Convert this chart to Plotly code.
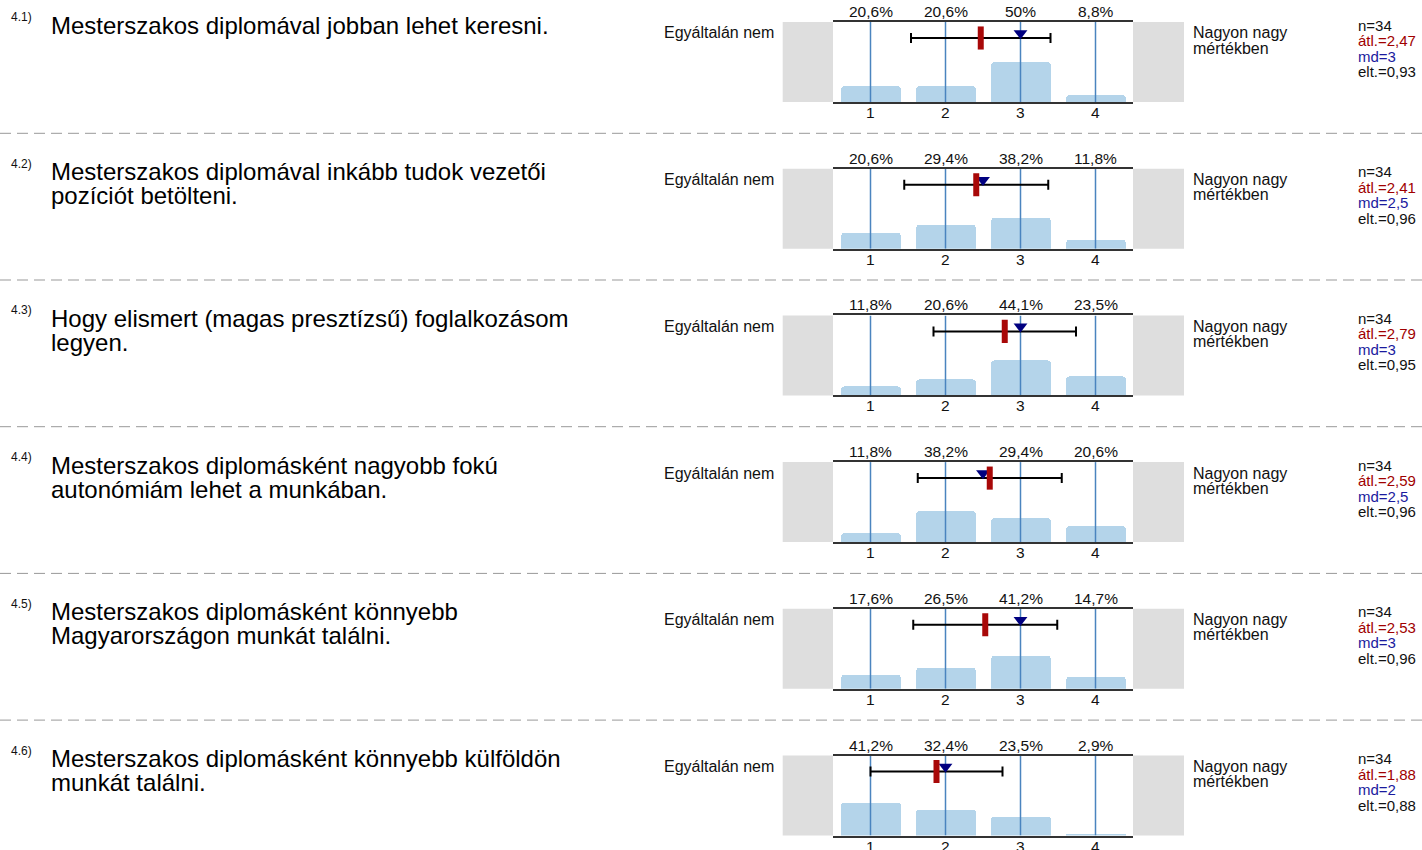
import plotly.graph_objects as go

# ---------------- data ----------------
codes = ["4.1)", "4.2)", "4.3)", "4.4)", "4.5)", "4.6)"]
question_lines = [
    ["Mesterszakos diplomával jobban lehet keresni."],
    ["Mesterszakos diplomával inkább tudok vezetői", "pozíciót betölteni."],
    ["Hogy elismert (magas presztízsű) foglalkozásom", "legyen."],
    ["Mesterszakos diplomásként nagyobb fokú", "autonómiám lehet a munkában."],
    ["Mesterszakos diplomásként könnyebb", "Magyarországon munkát találni."],
    ["Mesterszakos diplomásként könnyebb külföldön", "munkát találni."],
]
categories = ["1", "2", "3", "4"]
scale_values = [1, 2, 3, 4]
pct_4_1 = [20.6, 20.6, 50.0, 8.8]
pct_4_2 = [20.6, 29.4, 38.2, 11.8]
pct_4_3 = [11.8, 20.6, 44.1, 23.5]
pct_4_4 = [11.8, 38.2, 29.4, 20.6]
pct_4_5 = [17.6, 26.5, 41.2, 14.7]
pct_4_6 = [41.2, 32.4, 23.5, 2.9]
pcts = [pct_4_1, pct_4_2, pct_4_3, pct_4_4, pct_4_5, pct_4_6]
n_values = [34, 34, 34, 34, 34, 34]
means = [2.47, 2.41, 2.79, 2.59, 2.53, 1.88]
medians = [3, 2.5, 3, 2.5, 3, 2]
sds = [0.93, 0.96, 0.95, 0.96, 0.96, 0.88]
left_label = "Egyáltalán nem"
right_label = ["Nagyon nagy", "mértékben"]


def hu(v):
    s = f"{v:g}"
    return s.replace(".", ",")


# ---------------- layout geometry ----------------
W, H = 1422, 850
ROW0, STEP, PH = 22.0, 146.7, 80.0
X0, X1 = 833.0, 1133.0
FONT = "Arial, Liberation Sans, sans-serif"


def px(x):
    return x / W


def py(y):
    return 1 - y / H


fig = go.Figure()
shapes = []
annotations = []
layout_axes = {}

for i in range(6):
    k = i + 1
    xa = "x" if k == 1 else f"x{k}"
    ya = "y" if k == 1 else f"y{k}"
    T = ROW0 + STEP * i

    # bars
    fig.add_trace(go.Bar(
        x=scale_values, y=pcts[i], width=0.8,
        marker=dict(color="#b4d4ea", cornerradius=4, line=dict(width=0)),
        xaxis=xa, yaxis=ya, hoverinfo="skip", showlegend=False))
    # vertical scale lines (drawn above bars)
    gx, gy = [], []
    for v in scale_values:
        gx += [v, v, None]
        gy += [0, 100, None]
    fig.add_trace(go.Scatter(
        x=gx, y=gy, mode="lines", line=dict(color="#4a84bf", width=1.5),
        xaxis=xa, yaxis=ya, hoverinfo="skip", showlegend=False))
    # error bar: mean +- sd
    fig.add_trace(go.Scatter(
        x=[means[i]], y=[80], mode="markers",
        marker=dict(size=1, color="rgba(0,0,0,0)"),
        error_x=dict(type="data", array=[sds[i]], color="black", thickness=2, width=5),
        xaxis=xa, yaxis=ya, hoverinfo="skip", showlegend=False))
    # median triangle
    fig.add_trace(go.Scatter(
        x=[medians[i]], y=[86], mode="markers",
        marker=dict(symbol="triangle-down", size=12, color="#000080", line=dict(width=0)),
        xaxis=xa, yaxis=ya, hoverinfo="skip", showlegend=False))
    # mean marker
    fig.add_trace(go.Scatter(
        x=[means[i]], y=[80], mode="markers",
        marker=dict(symbol="line-ns", size=16.5, line=dict(width=6, color="#a80808")),
        xaxis=xa, yaxis=ya, hoverinfo="skip", showlegend=False))

    layout_axes["xaxis" if k == 1 else f"xaxis{k}"] = dict(
        domain=[px(X0), px(X1)], range=[0.5, 4.5], anchor=ya,
        tickvals=scale_values, showticklabels=False, ticks="",
        showgrid=False, zeroline=False, showline=True, mirror=True,
        linecolor="#333333", linewidth=1.5, fixedrange=True)
    layout_axes["yaxis" if k == 1 else f"yaxis{k}"] = dict(
        domain=[py(T + PH), py(T)], range=[0, 100], anchor=xa,
        visible=False, fixedrange=True)

    # gray side boxes
    for (a, b) in [(782.7, X0), (X1, 1184.0)]:
        shapes.append(dict(type="rect", xref="paper", yref="paper",
                           x0=px(a), x1=px(b), y0=py(T + PH), y1=py(T),
                           fillcolor="#dedede", line=dict(width=0), layer="below"))
    # dashed separator
    if i < 5:
        ysep = T + 111.3
        shapes.append(dict(type="line", xref="paper", yref="paper",
                           x0=0, x1=1, y0=py(ysep), y1=py(ysep),
                           line=dict(color="#999999", width=1, dash="11px,6px")))

    # percent labels (top) and category labels (bottom)
    for v, p, c in zip(scale_values, pcts[i], categories):
        annotations.append(dict(
            x=v, y=1, xref=xa, yref=f"{ya} domain", yanchor="bottom", xanchor="center",
            text=hu(p) + "%", showarrow=False, yshift=0,
            font=dict(size=15.5, color="#111", family=FONT)))
        annotations.append(dict(
            x=v, y=0, xref=xa, yref=f"{ya} domain", yanchor="top", xanchor="center",
            text=c, showarrow=False, yshift=0,
            font=dict(size=15.5, color="#111", family=FONT)))

    # question code + text
    annotations.append(dict(
        x=px(9), y=py(T - 5), xref="paper", yref="paper", xanchor="left", yanchor="middle",
        text=codes[i], showarrow=False, font=dict(size=12, color="#111", family=FONT)))
    for j, line in enumerate(question_lines[i]):
        annotations.append(dict(
            x=px(49), y=py(T + 3 + 24 * j), xref="paper", yref="paper",
            xanchor="left", yanchor="middle", text=line, showarrow=False,
            font=dict(size=24, color="#000", family=FONT)))

    # scale end labels
    annotations.append(dict(
        x=px(776), y=py(T + 11), xref="paper", yref="paper", xanchor="right",
        yanchor="middle", text=left_label, showarrow=False,
        font=dict(size=16, color="#111", family=FONT)))
    for j, line in enumerate(right_label):
        annotations.append(dict(
            x=px(1191), y=py(T + 11 + 15 * j), xref="paper", yref="paper",
            xanchor="left", yanchor="middle", text=line, showarrow=False,
            font=dict(size=16, color="#111", family=FONT)))

    # statistics
    stats = [
        (f"n={n_values[i]}", "#111111"),
        (f"átl.={hu(means[i])}", "#a00000"),
        (f"md={hu(medians[i])}", "#1a1a9e"),
        (f"elt.={hu(sds[i])}", "#111111"),
    ]
    for j, (txt, col) in enumerate(stats):
        annotations.append(dict(
            x=px(1356), y=py(T + 3 + 15.5 * j), xref="paper", yref="paper",
            xanchor="left", yanchor="middle", text=txt, showarrow=False,
            font=dict(size=15, color=col, family=FONT)))

fig.update_layout(
    width=W, height=H, margin=dict(l=0, r=0, t=0, b=0),
    paper_bgcolor="white", plot_bgcolor="white",
    font=dict(family=FONT, color="#111"),
    shapes=shapes, annotations=annotations, showlegend=False,
    bargap=0, **layout_axes)

fig.write_html("out.html", config={"displayModeBar": False},
               post_script="document.body.style.margin='0px';")
